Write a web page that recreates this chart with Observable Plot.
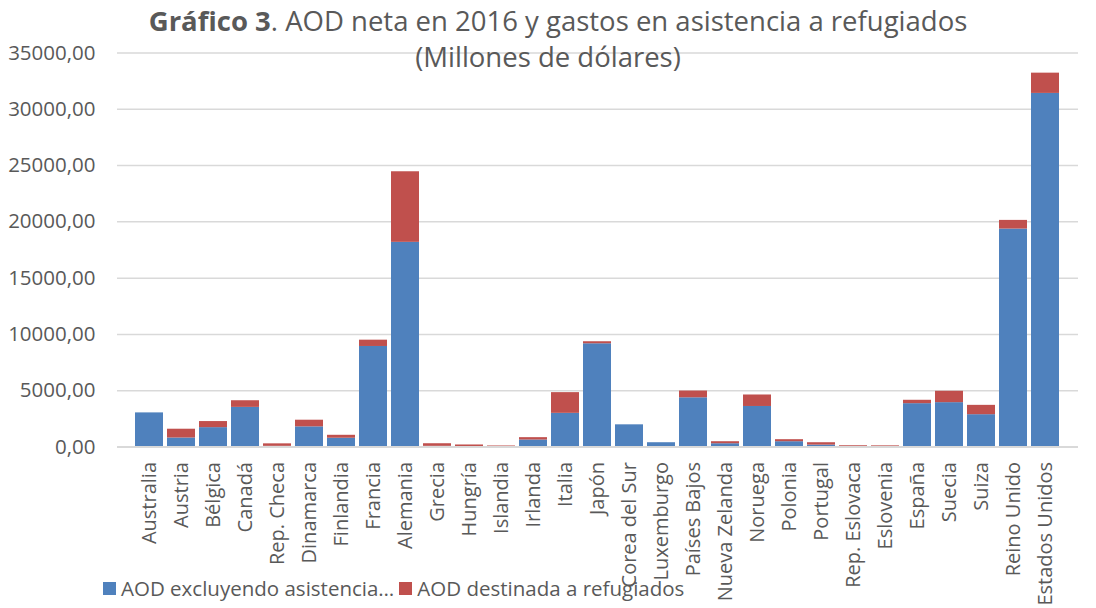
<!DOCTYPE html>
<html>
<head>
<meta charset="utf-8">
<script src="https://cdn.jsdelivr.net/npm/d3@7"></script>
<script src="https://cdn.jsdelivr.net/npm/@observablehq/plot@0.6"></script>
<style>
  html, body { margin: 0; padding: 0; background: #fff; }
  #wrap { position: relative; width: 1096px; height: 608px; overflow: hidden; font-family: "Open Sans", sans-serif; color: #595959; }
  .title { position: absolute; left: 0; width: 1096px; text-align: center; font-size: 27.5px; line-height: 1; white-space: nowrap; }
  #legend { position: absolute; top: 578px; left: 103px; font-size: 20.5px; line-height: 1; display: flex; align-items: center; white-space: nowrap; }
  .sw { display: inline-block; width: 13px; height: 13px; margin-right: 5px; }
</style>
</head>
<body>
<div id="wrap">
  <div id="chart"></div>
  <div class="title" style="top:7px; left:10px;"><b>Gráfico 3</b>. AOD neta en 2016 y gastos en asistencia a refugiados</div>
  <div class="title" style="top:43px; left:0px;">(Millones de dólares)</div>
  <div id="legend"></div>
</div>
<script>
const categories = ["Australia","Austria","Bélgica","Canadá","Rep. Checa","Dinamarca","Finlandia","Francia","Alemania","Grecia","Hungría","Islandia","Irlanda","Italia","Japón","Corea del Sur","Luxemburgo","Países Bajos","Nueva Zelanda","Noruega","Polonia","Portugal","Rep. Eslovaca","Eslovenia","España","Suecia","Suiza","Reino Unido","Estados Unidos"];
const aodExcluyendo = [3030,800,1720,3520,60,1790,780,8930,18180,60,40,20,620,2990,9170,1970,380,4370,290,3600,470,170,20,20,3850,3940,2870,19360,31410];
const aodRefugiados = [0,780,540,590,220,590,260,560,6270,230,140,70,210,1840,180,0,0,600,180,1020,180,210,90,80,300,1010,830,770,1800];
const seriesNames = ["AOD excluyendo asistencia…","AOD destinada a refugiados"];
const seriesColors = ["#4F81BD","#C0504D"];
const yTicks = [0,5000,10000,15000,20000,25000,30000,35000];

const data = categories.flatMap((c, i) => [
  {country: c, serie: seriesNames[0], value: aodExcluyendo[i]},
  {country: c, serie: seriesNames[1], value: aodRefugiados[i]}
]);

const fmt = d => d3.format(".2f")(d).replace(".", ",");

const chart = Plot.plot({
  width: 1096,
  height: 608,
  marginLeft: 117,
  marginRight: 18,
  marginTop: 52.5,
  marginBottom: 161.5,
  style: {fontFamily: "'Open Sans', sans-serif", fontSize: "20.5px", color: "#595959", background: "white", overflow: "visible"},
  x: {domain: categories, paddingInner: 0.11, paddingOuter: 0.245, label: null},
  y: {domain: [0, 35000], label: null},
  color: {domain: seriesNames, range: seriesColors},
  marks: [
    Plot.gridY(yTicks, {stroke: "#d9d9d9", strokeOpacity: 1, strokeWidth: 1.5}),
    Plot.barY(data, {x: "country", y: "value", fill: "serie"}),
    Plot.ruleY([0], {stroke: "#d9d9d9", strokeWidth: 2}),
    Plot.axisY(yTicks, {tickSize: 0, tickPadding: 22, tickFormat: fmt, label: null, fontSize: 20.5}),
    Plot.axisX({tickSize: 0, tickRotate: -90, tickPadding: 15, label: null, fontSize: 20})
  ]
});
document.getElementById("chart").appendChild(chart);

const legend = document.getElementById("legend");
seriesNames.forEach((n, i) => {
  const item = document.createElement("span");
  item.style.display = "inline-flex";
  item.style.alignItems = "center";
  item.style.marginRight = "5px";
  item.innerHTML = `<span class="sw" style="background:${seriesColors[i]}"></span><span>${n}</span>`;
  legend.appendChild(item);
});
</script>
</body>
</html>
